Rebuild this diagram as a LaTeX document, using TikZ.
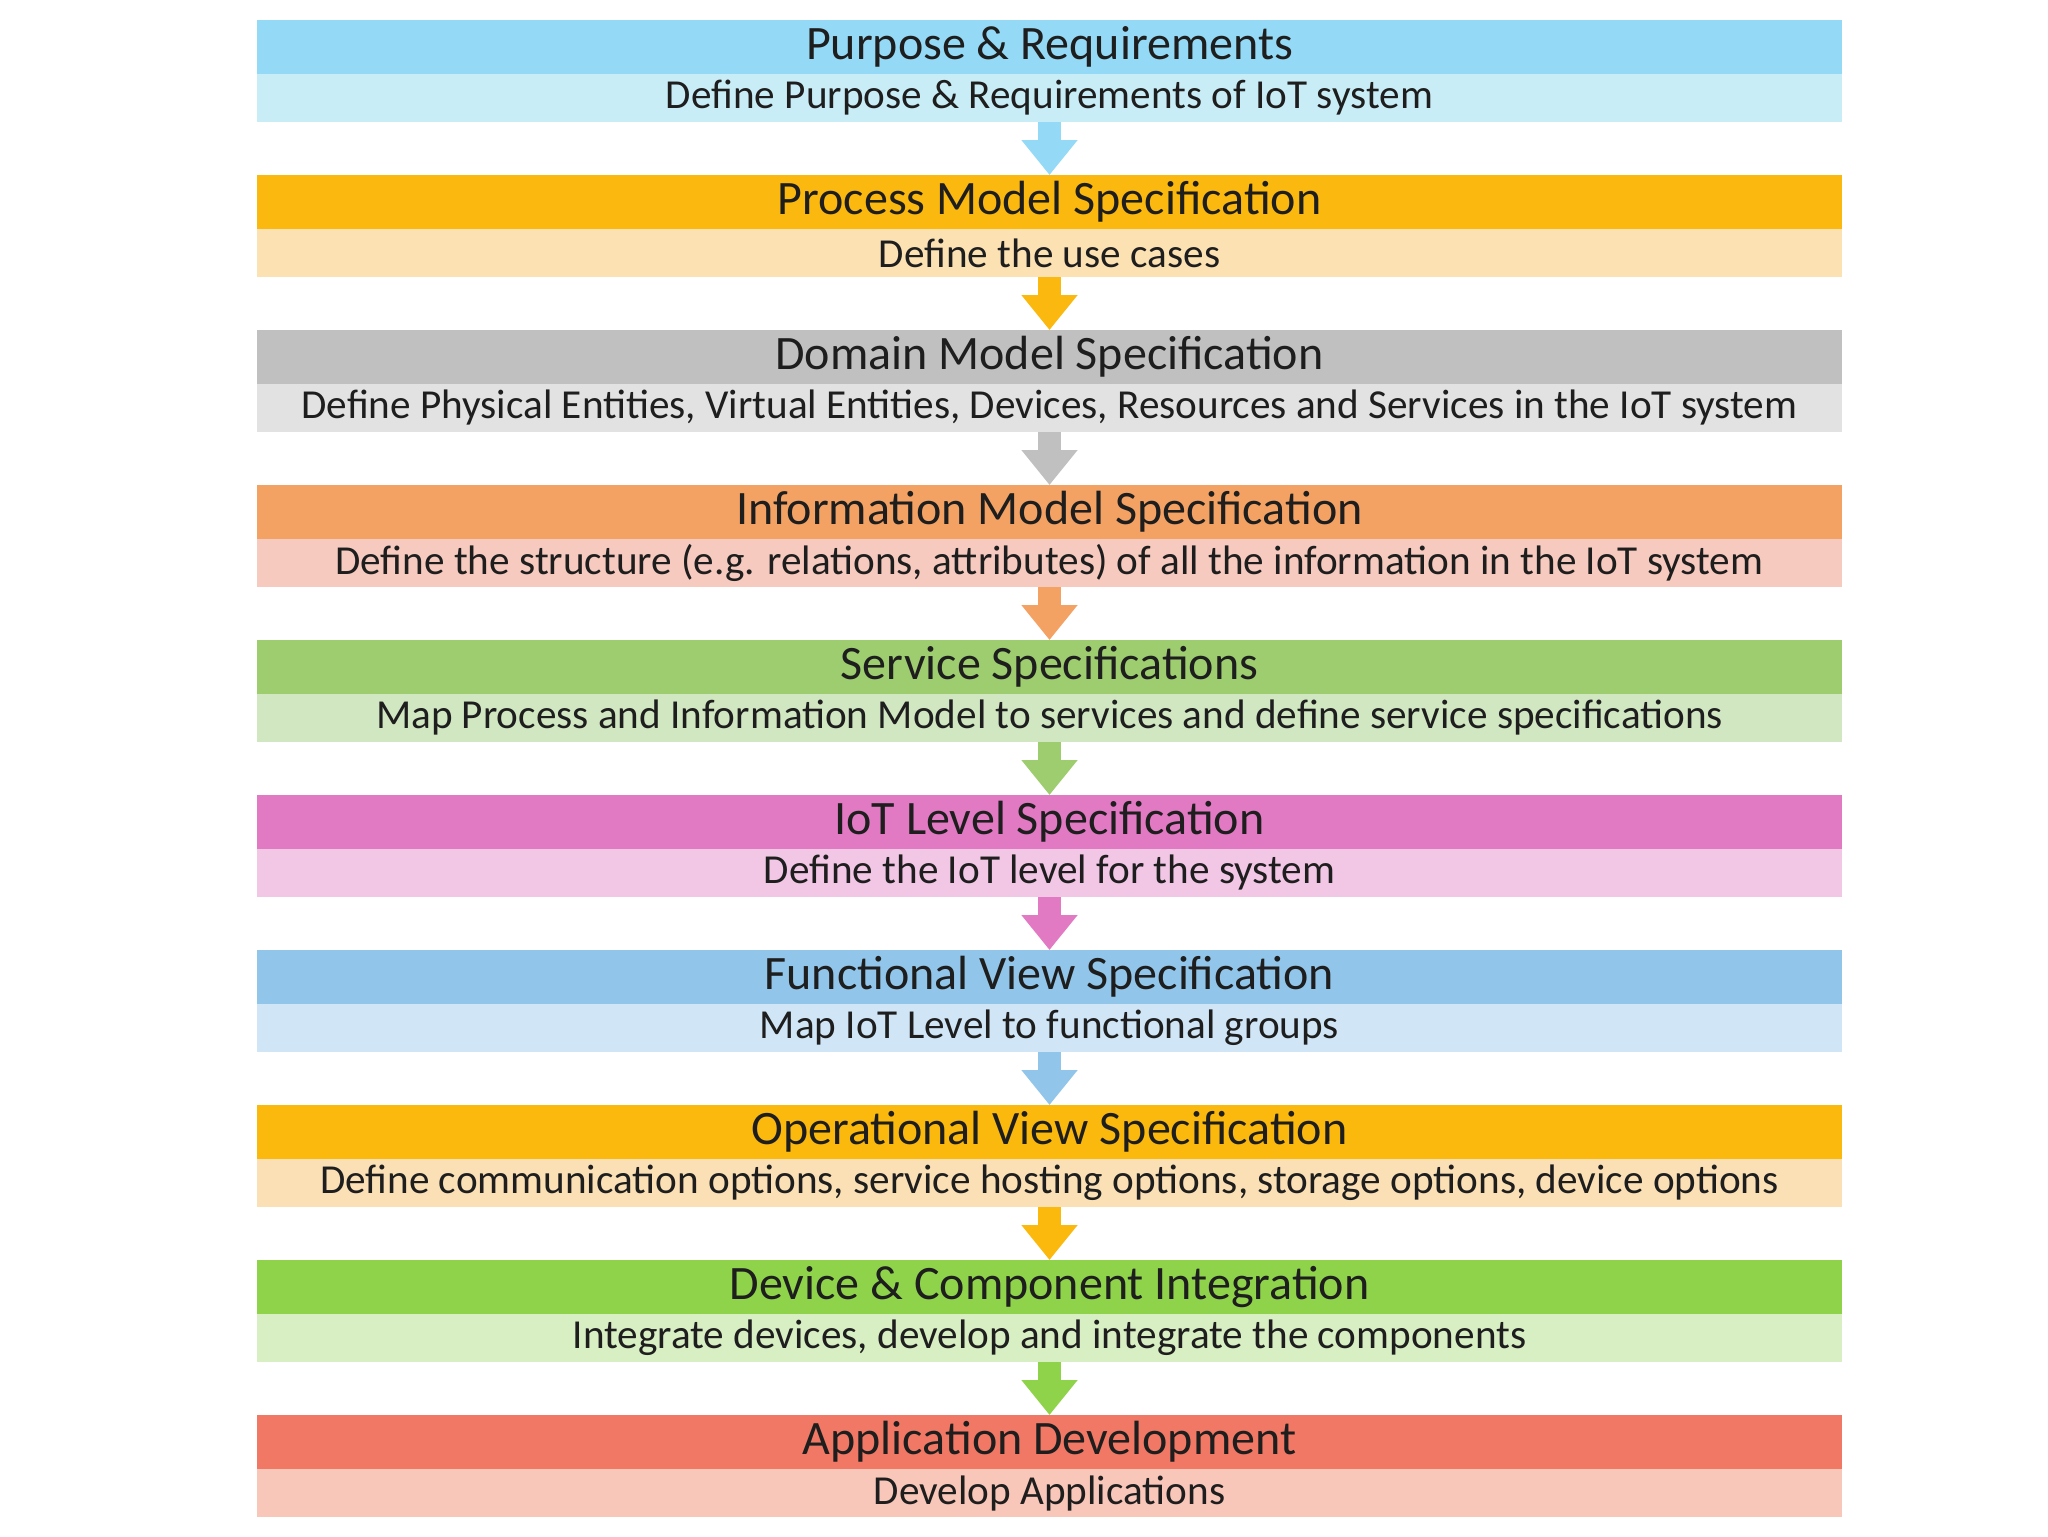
\documentclass[tikz,border=0pt]{standalone}
\usepackage{fontspec}
\setmainfont{Carlito}
\usepackage{tikz}
\usetikzlibrary{arrows.meta,positioning}

\definecolor{txt}{HTML}{1E1E1E}
\definecolor{purposeHead}{HTML}{94D9F5}
\definecolor{purposeSub}{HTML}{C9EDF7}
\definecolor{processHead}{HTML}{FBB80E}
\definecolor{processSub}{HTML}{FCE1B3}
\definecolor{domainHead}{HTML}{C0C0C0}
\definecolor{domainSub}{HTML}{E2E2E2}
\definecolor{infoHead}{HTML}{F3A264}
\definecolor{infoSub}{HTML}{F6CABE}
\definecolor{serviceHead}{HTML}{9DCD6E}
\definecolor{serviceSub}{HTML}{D0E7C2}
\definecolor{levelHead}{HTML}{E179C3}
\definecolor{levelSub}{HTML}{F2C6E5}
\definecolor{funcHead}{HTML}{91C6EA}
\definecolor{funcSub}{HTML}{D0E6F7}
\definecolor{opHead}{HTML}{FBB90D}
\definecolor{opSub}{HTML}{FBE0B6}
\definecolor{deviceHead}{HTML}{8FD34B}
\definecolor{deviceSub}{HTML}{D8EEC3}
\definecolor{appHead}{HTML}{F07864}
\definecolor{appSub}{HTML}{F8C7B9}

\begin{document}
\begin{tikzpicture}[
    head/.style={rectangle, inner sep=0pt, outer sep=0pt, minimum width=792.5pt, minimum height=27pt, text=txt, font=\fontsize{24}{26}\selectfont},
    desc/.style={rectangle, inner sep=0pt, outer sep=0pt, minimum width=792.5pt, minimum height=24pt, text=txt, font=\fontsize{20.6}{22}\selectfont},
    flow/.style={line width=11.5pt, -{Triangle[width=27pt,length=17.5pt]}}
]
    \useasboundingbox (0,0) rectangle (1024pt,-768pt);

    \node[head, fill=purposeHead] (purpose) at (524.75pt,-23.5pt) {Purpose \& Requirements};
    \node[desc, fill=purposeSub, below=0pt of purpose] (purposeD) {Define Purpose \& Requirements of IoT system};

    \node[head, fill=processHead, below=26.5pt of purposeD] (process) {Process Model Specification};
    \node[desc, fill=processSub, below=0pt of process] (processD) {Define the use cases};

    \node[head, fill=domainHead, below=26.5pt of processD] (domain) {Domain Model Specification};
    \node[desc, fill=domainSub, below=0pt of domain] (domainD) {Define Physical Entities, Virtual Entities, Devices, Resources and Services in the IoT system};

    \node[head, fill=infoHead, below=26.5pt of domainD] (info) {Information Model Specification};
    \node[desc, fill=infoSub, below=0pt of info] (infoD) {Define the structure (e.g. relations, attributes) of all the information in the IoT system};

    \node[head, fill=serviceHead, below=26.5pt of infoD] (service) {Service Specifications};
    \node[desc, fill=serviceSub, below=0pt of service] (serviceD) {Map Process and Information Model to services and define service specifications};

    \node[head, fill=levelHead, below=26.5pt of serviceD] (level) {IoT Level Specification};
    \node[desc, fill=levelSub, below=0pt of level] (levelD) {Define the IoT level for the system};

    \node[head, fill=funcHead, below=26.5pt of levelD] (func) {Functional View Specification};
    \node[desc, fill=funcSub, below=0pt of func] (funcD) {Map IoT Level to functional groups};

    \node[head, fill=opHead, below=26.5pt of funcD] (op) {Operational View Specification};
    \node[desc, fill=opSub, below=0pt of op] (opD) {Define communication options, service hosting options, storage options, device options};

    \node[head, fill=deviceHead, below=26.5pt of opD] (device) {Device \& Component Integration};
    \node[desc, fill=deviceSub, below=0pt of device] (deviceD) {Integrate devices, develop and integrate the components};

    \node[head, fill=appHead, below=26.5pt of deviceD] (app) {Application Development};
    \node[desc, fill=appSub, below=0pt of app] (appD) {Develop Applications};

    % step arrows
    \draw[flow, purposeHead] (purposeD) -- (process);
    \draw[flow, processHead] (processD) -- (domain);
    \draw[flow, domainHead] (domainD) -- (info);
    \draw[flow, infoHead] (infoD) -- (service);
    \draw[flow, serviceHead] (serviceD) -- (level);
    \draw[flow, levelHead] (levelD) -- (func);
    \draw[flow, funcHead] (funcD) -- (op);
    \draw[flow, opHead] (opD) -- (device);
    \draw[flow, deviceHead] (deviceD) -- (app);
\end{tikzpicture}
\end{document}
